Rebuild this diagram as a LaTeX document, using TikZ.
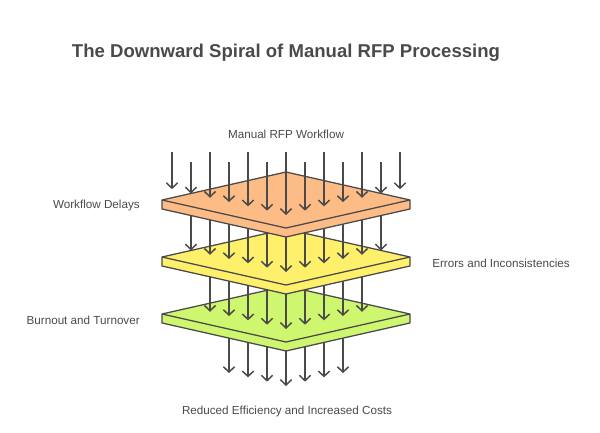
\documentclass[tikz,border=0pt]{standalone}
\usepackage{fontspec}
\setmainfont{Liberation Sans}
\usetikzlibrary{arrows.meta, positioning}

\definecolor{inkgray}{HTML}{4A4A4A}
\definecolor{peach}{HTML}{FDBB86}
\definecolor{lemon}{HTML}{FEF06A}
\definecolor{lime}{HTML}{CFF66F}

% one stacked layer: centre height and fill colour
\newcommand{\rfplayer}[2]{%
  \filldraw[plate, fill=#2] (162,#1) -- (286,{#1-28}) -- (410,#1) -- (410,{#1+9})
    -- (286,{#1+37}) -- (162,{#1+9}) -- cycle;
  \draw[plate] (162,#1) -- (286,{#1+28}) -- (410,#1);
}

\begin{document}
\begin{tikzpicture}[
  x=0.025cm, y=-0.025cm,
  plate/.style={draw=inkgray, line width=0.9pt, line join=round},
  flow/.style={draw=inkgray, line width=1.05pt, -{Straight Barb[length=3.8pt, width=8pt]}},
  sidetext/.style={font=\fontsize{8.3}{10}\selectfont, text=inkgray, inner sep=0pt},
  titletext/.style={font=\fontsize{13.2}{16}\selectfont\bfseries, text=inkgray, inner sep=0pt}
]
\useasboundingbox (0,0) rectangle (600,433);

\node[titletext] (title) at (286,53) {The Downward Spiral of Manual RFP Processing};

% bottom outflow
\foreach \k in {-3,...,3}
  \draw[flow] ({286+19*\k},314) -- ({286+19*\k},{386-4.3*abs(\k)});
\rfplayer{314}{lime}

\foreach \k in {-4,...,4}
  \draw[flow] ({286+19*\k},257) -- ({286+19*\k},{329-4.3*abs(\k)});
\rfplayer{257}{lemon}

\foreach \k in {-5,...,5}
  \draw[flow] ({286+19*\k},200) -- ({286+19*\k},{272-4.3*abs(\k)});
\rfplayer{200}{peach}

% incoming work
\foreach \k in {-6,...,6} {
  \pgfmathsetmacro{\ys}{mod(abs(\k),2)==0 ? 152 : 162}
  \draw[flow] ({286+19*\k},\ys) -- ({286+19*\k},{215-4.3*abs(\k)});
}

\node[sidetext] (inflow) at (286,134) {Manual RFP Workflow};
\node[sidetext, anchor=east] (delays) at (140,205) {Workflow Delays};
\node[sidetext, anchor=west] (errors) at (432,263) {Errors and Inconsistencies};
\node[sidetext, anchor=east] (burnout) at (140,320) {Burnout and Turnover};
\node[sidetext] (costs) at (287,411) {Reduced Efficiency and Increased Costs};

\end{tikzpicture}
\end{document}
